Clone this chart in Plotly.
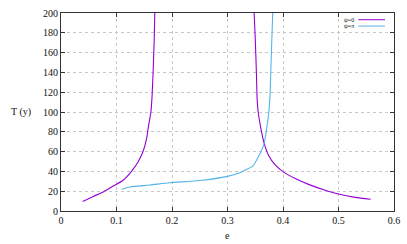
import plotly.graph_objects as go

# psi = 0, low-e branch
e_psi0_low = [0.039, 0.058, 0.076, 0.094, 0.112, 0.127, 0.139, 0.148, 0.154, 0.158, 0.162, 0.164, 0.166, 0.168, 0.169]
T_psi0_low = [9.5, 14.7, 19.3, 25.2, 31.1, 40, 49.8, 60.3, 72.7, 87, 100, 115, 141, 174, 200]
# psi = 0, high-e branch
e_psi0_high = [0.348, 0.350, 0.352, 0.3535, 0.3555, 0.3596, 0.3655, 0.374, 0.386, 0.401, 0.422, 0.446, 0.476, 0.50, 0.53, 0.558]
T_psi0_high = [200, 174, 141, 112, 99, 85, 69.5, 56, 46.5, 39.3, 32.8, 26.9, 21, 17.1, 13.8, 11.8]
# psi = pi
e_psipi = [0.109, 0.124, 0.16, 0.196, 0.25, 0.30, 0.321, 0.333, 0.345, 0.351, 0.36, 0.365, 0.368, 0.371, 0.3745, 0.3765, 0.378, 0.3798, 0.3815]
T_psipi = [22, 24.3, 26.2, 28.5, 30.8, 35, 38.3, 41.6, 45, 50, 59.6, 66, 74, 85, 100, 115, 141, 172, 200]

x_ticks = [0, 0.1, 0.2, 0.3, 0.4, 0.5, 0.6]
x_labels = ["0", "0.1", "0.2", "0.3", "0.4", "0.5", "0.6"]
y_ticks = [0, 20, 40, 60, 80, 100, 120, 140, 160, 180, 200]

PURPLE = "#9400d3"
CYAN = "#56b4e9"
FONT = "Liberation Serif"

fig = go.Figure()
line_kw = dict(width=1.1, shape="spline", smoothing=0.6)
fig.add_trace(go.Scatter(x=e_psi0_low, y=T_psi0_low, mode="lines", line=dict(color=PURPLE, **line_kw),
                         name="ψ=0", showlegend=False))
fig.add_trace(go.Scatter(x=e_psi0_high, y=T_psi0_high, mode="lines", line=dict(color=PURPLE, **line_kw),
                         name="ψ=0", showlegend=False))
fig.add_trace(go.Scatter(x=e_psipi, y=T_psipi, mode="lines", line=dict(color=CYAN, **line_kw),
                         name="ψ=π", showlegend=False))

axis_common = dict(
    showline=True, linecolor="#333", linewidth=1, mirror="allticks",
    ticks="inside", ticklen=4, tickcolor="#333",
    showgrid=True, gridcolor="#c8c8c8", griddash="dot", gridwidth=1,
    zeroline=False, tickfont=dict(family=FONT, size=10, color="#111"),
)

fig.update_xaxes(range=[0, 0.6], tickvals=x_ticks, ticktext=x_labels, **axis_common)
fig.update_yaxes(range=[0, 200], tickvals=y_ticks, **axis_common)

# manual gnuplot-style key (text left of sample line)
for i, (lab, col) in enumerate([("ψ=0", PURPLE), ("ψ=π", CYAN)]):
    yy = 0.966 - i * 0.032
    fig.add_annotation(x=0.887, y=yy, xref="paper", yref="paper", text=lab, showarrow=False,
                       xanchor="right", yanchor="middle", font=dict(family=FONT, size=6, color="#111"))
    fig.add_shape(type="line", xref="paper", yref="paper", x0=0.893, x1=0.973, y0=yy, y1=yy,
                  line=dict(color=col, width=1))

fig.add_annotation(x=-0.12, y=0.5, xref="paper", yref="paper", text="T (y)", showarrow=False,
                   xanchor="center", yanchor="middle", font=dict(family=FONT, size=10, color="#111"))
fig.add_annotation(x=0.5, y=-0.123, xref="paper", yref="paper", text="e", showarrow=False,
                   xanchor="center", yanchor="middle", font=dict(family=FONT, size=10, color="#111"))

fig.update_layout(
    width=407, height=244,
    margin=dict(l=61, r=10, t=7, b=33),
    paper_bgcolor="white", plot_bgcolor="white",
    showlegend=False,
)

fig.write_html("out.html", config={"displayModeBar": False},
               post_script="document.body.style.margin='0';document.body.style.overflow='hidden';")
